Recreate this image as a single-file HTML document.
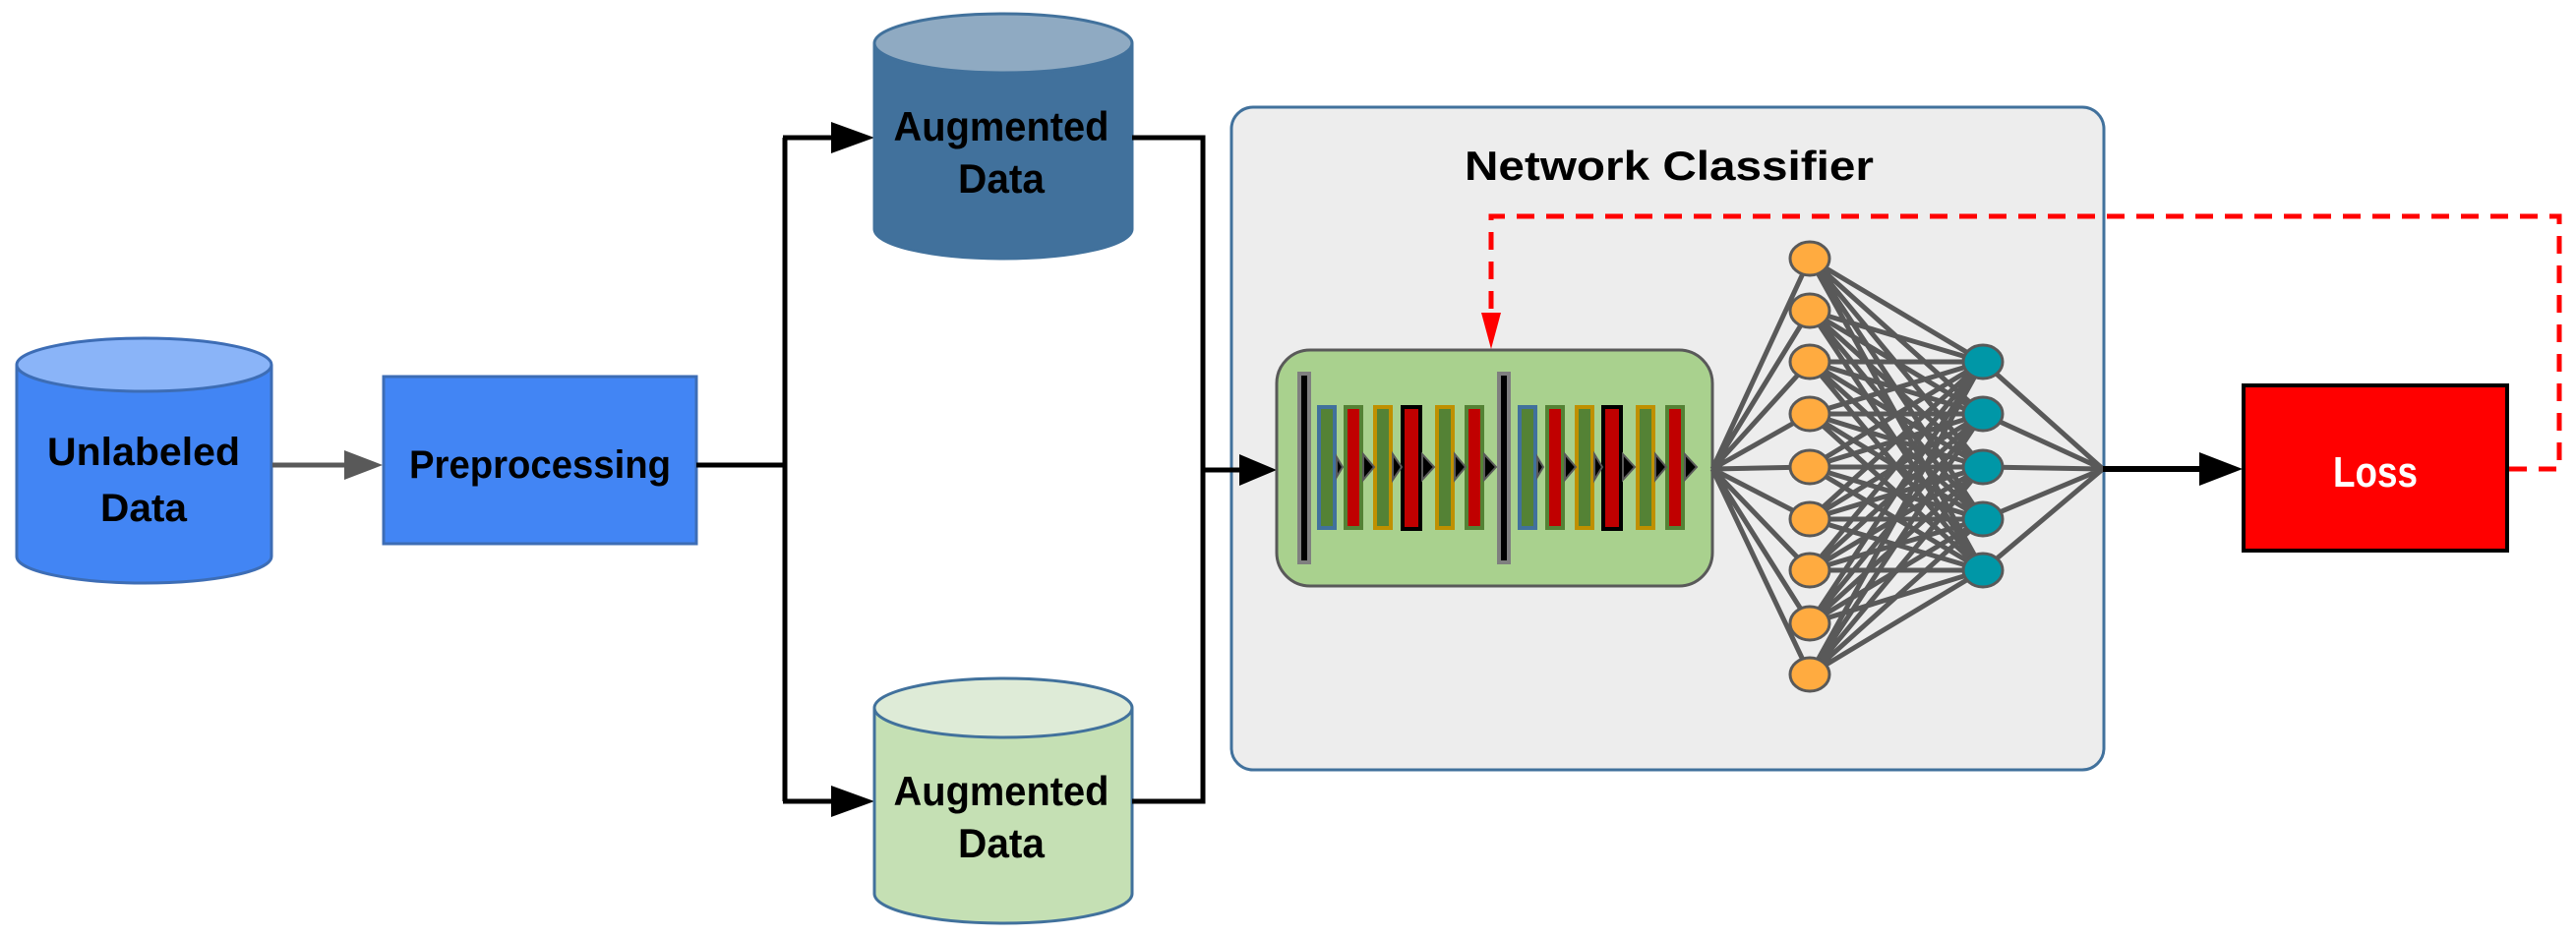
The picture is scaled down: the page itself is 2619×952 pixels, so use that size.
<!DOCTYPE html>
<html><head><meta charset="utf-8"><style>
html,body{margin:0;padding:0;background:#fff;}
svg{display:block;}
text{font-family:"Liberation Sans",sans-serif;font-weight:bold;}
</style></head><body>
<svg width="2619" height="952" viewBox="0 0 2619 952" xmlns="http://www.w3.org/2000/svg">

<!-- Unlabeled cylinder -->
<path d="M17,371 L17,566 A129.5,27 0 0 0 276,566 L276,371" fill="#4285f4" stroke="#3d6db5" stroke-width="3"/>
<ellipse cx="146.5" cy="371" rx="129.5" ry="27" fill="#8ab4f8" stroke="#3d6db5" stroke-width="3"/>
<text x="146" y="473" font-size="40" text-anchor="middle" textLength="196" lengthAdjust="spacingAndGlyphs">Unlabeled</text>
<text x="146" y="530" font-size="40" text-anchor="middle" textLength="88" lengthAdjust="spacingAndGlyphs">Data</text>

<!-- gray arrow -->
<line x1="277" y1="473" x2="360" y2="473" stroke="#595959" stroke-width="5"/>
<path d="M350,458 L389,473 L350,488 z" fill="#595959"/>

<!-- Preprocessing -->
<rect x="390" y="383" width="318" height="170" fill="#4285f4" stroke="#3d6db5" stroke-width="3"/>
<text x="549" y="486" font-size="40" text-anchor="middle" textLength="266" lengthAdjust="spacingAndGlyphs">Preprocessing</text>

<!-- split lines -->
<polyline points="708,473 798,473" fill="none" stroke="#000" stroke-width="5"/>
<polyline points="798,140 798,815" fill="none" stroke="#000" stroke-width="5"/>
<line x1="796" y1="140" x2="850" y2="140" stroke="#000" stroke-width="5"/>
<path d="M845,124 L889,140 L845,156 z" fill="#000"/>
<line x1="796" y1="815" x2="850" y2="815" stroke="#000" stroke-width="5"/>
<path d="M845,799 L889,815 L845,831 z" fill="#000"/>

<!-- Top augmented cylinder -->
<path d="M889,44 L889,233 A131,30 0 0 0 1151,233 L1151,44" fill="#41719c" stroke="#41719c" stroke-width="3"/>
<ellipse cx="1020" cy="44" rx="131" ry="30" fill="#8faac2" stroke="#41719c" stroke-width="3"/>
<text x="1018" y="143" font-size="42" text-anchor="middle" textLength="219" lengthAdjust="spacingAndGlyphs">Augmented</text>
<text x="1018" y="196" font-size="42" text-anchor="middle" textLength="88" lengthAdjust="spacingAndGlyphs">Data</text>

<!-- Bottom augmented cylinder -->
<path d="M889,720 L889,909 A131,30 0 0 0 1151,909 L1151,720" fill="#c5e0b4" stroke="#41719c" stroke-width="3"/>
<ellipse cx="1020" cy="720" rx="131" ry="30" fill="#deebd7" stroke="#41719c" stroke-width="3"/>
<text x="1018" y="819" font-size="42" text-anchor="middle" textLength="219" lengthAdjust="spacingAndGlyphs">Augmented</text>
<text x="1018" y="872" font-size="42" text-anchor="middle" textLength="88" lengthAdjust="spacingAndGlyphs">Data</text>

<!-- merge lines -->
<polyline points="1151,140 1223,140 1223,815 1151,815" fill="none" stroke="#000" stroke-width="5"/>

<!-- Network box -->
<rect x="1252" y="109" width="887" height="674" rx="22" fill="#ededed" stroke="#41719c" stroke-width="3"/>
<text x="1697" y="183" font-size="42" text-anchor="middle" textLength="416" lengthAdjust="spacingAndGlyphs">Network Classifier</text>

<line x1="1221" y1="478" x2="1265" y2="478" stroke="#000" stroke-width="5"/>
<path d="M1260,462 L1298,478 L1260,494 z" fill="#000"/>

<!-- green box -->
<rect x="1298" y="356" width="443" height="240" rx="34" fill="#a9d18e" stroke="#595959" stroke-width="3"/>
<g stroke-width="4">
<rect x="1321" y="380" width="10" height="192" fill="#000" stroke="#7f7f7f"/>
<rect x="1524" y="380" width="10" height="192" fill="#000" stroke="#7f7f7f"/>

<rect x="1341" y="414" width="16" height="123" fill="#548235" stroke="#41719c"/>
<rect x="1368" y="414" width="16" height="123" fill="#c00000" stroke="#548235"/>
<rect x="1398" y="414" width="16" height="123" fill="#548235" stroke="#bf9000"/>
<rect x="1426" y="414" width="18" height="124" fill="#c00000" stroke="#000"/>
<rect x="1461" y="414" width="16" height="123" fill="#548235" stroke="#bf9000"/>
<rect x="1491" y="414" width="16" height="123" fill="#c00000" stroke="#548235"/>

<rect x="1545" y="414" width="16" height="123" fill="#548235" stroke="#41719c"/>
<rect x="1573" y="414" width="16" height="123" fill="#c00000" stroke="#548235"/>
<rect x="1603" y="414" width="16" height="123" fill="#548235" stroke="#bf9000"/>
<rect x="1630" y="414" width="18" height="124" fill="#c00000" stroke="#000"/>
<rect x="1665" y="414" width="16" height="123" fill="#548235" stroke="#bf9000"/>
<rect x="1695" y="414" width="16" height="123" fill="#c00000" stroke="#548235"/>
</g>
<g fill="#000" stroke="#595959" stroke-width="2">
<path d="M1359,465 L1365,475 L1359,485 z"/>
<path d="M1386,462 L1397,475 L1386,488 z"/>
<path d="M1416,462 L1425,475 L1416,488 z"/>
<path d="M1446,462 L1458,475 L1446,488 z"/>
<path d="M1479,462 L1490,475 L1479,488 z"/>
<path d="M1509,462 L1521,475 L1509,488 z"/>
<path d="M1563,465 L1569,475 L1563,485 z"/>
<path d="M1591,462 L1602,475 L1591,488 z"/>
<path d="M1621,462 L1629,475 L1621,488 z"/>
<path d="M1650,462 L1662,475 L1650,488 z"/>
<path d="M1683,462 L1694,475 L1683,488 z"/>
<path d="M1713,462 L1725,475 L1713,488 z"/>
</g>

<!-- NN connections -->
<g stroke="#595959" stroke-width="5" fill="none">
<path d="M1741,477 L1840,263 M1741,477 L1840,316 M1741,477 L1840,368 M1741,477 L1840,421 M1741,477 L1840,475 M1741,477 L1840,528 M1741,477 L1840,580 M1741,477 L1840,634 M1741,477 L1840,686"/>
<path d="M2016,368 L2138,477 M2016,421 L2138,477 M2016,475 L2138,477 M2016,528 L2138,477 M2016,580 L2138,477"/>
<path d="
M1840,263 L2016,368 M1840,263 L2016,421 M1840,263 L2016,475 M1840,263 L2016,528 M1840,263 L2016,580
M1840,316 L2016,368 M1840,316 L2016,421 M1840,316 L2016,475 M1840,316 L2016,528 M1840,316 L2016,580
M1840,368 L2016,368 M1840,368 L2016,421 M1840,368 L2016,475 M1840,368 L2016,528 M1840,368 L2016,580
M1840,421 L2016,368 M1840,421 L2016,421 M1840,421 L2016,475 M1840,421 L2016,528 M1840,421 L2016,580
M1840,475 L2016,368 M1840,475 L2016,421 M1840,475 L2016,475 M1840,475 L2016,528 M1840,475 L2016,580
M1840,528 L2016,368 M1840,528 L2016,421 M1840,528 L2016,475 M1840,528 L2016,528 M1840,528 L2016,580
M1840,580 L2016,368 M1840,580 L2016,421 M1840,580 L2016,475 M1840,580 L2016,528 M1840,580 L2016,580
M1840,634 L2016,368 M1840,634 L2016,421 M1840,634 L2016,475 M1840,634 L2016,528 M1840,634 L2016,580
M1840,686 L2016,368 M1840,686 L2016,421 M1840,686 L2016,475 M1840,686 L2016,528 M1840,686 L2016,580"/>
</g>
<g fill="#ffab40" stroke="#595959" stroke-width="3">
<ellipse cx="1840" cy="263" rx="20" ry="17"/>
<ellipse cx="1840" cy="316" rx="20" ry="17"/>
<ellipse cx="1840" cy="368" rx="20" ry="17"/>
<ellipse cx="1840" cy="421" rx="20" ry="17"/>
<ellipse cx="1840" cy="475" rx="20" ry="17"/>
<ellipse cx="1840" cy="528" rx="20" ry="17"/>
<ellipse cx="1840" cy="580" rx="20" ry="17"/>
<ellipse cx="1840" cy="634" rx="20" ry="17"/>
<ellipse cx="1840" cy="686" rx="20" ry="17"/>
</g>
<g fill="#0097a7" stroke="#595959" stroke-width="3">
<ellipse cx="2016" cy="368" rx="20" ry="17"/>
<ellipse cx="2016" cy="421" rx="20" ry="17"/>
<ellipse cx="2016" cy="475" rx="20" ry="17"/>
<ellipse cx="2016" cy="528" rx="20" ry="17"/>
<ellipse cx="2016" cy="580" rx="20" ry="17"/>
</g>

<!-- to loss -->
<line x1="2138" y1="477" x2="2240" y2="477" stroke="#000" stroke-width="6"/>
<path d="M2236,460 L2280,477 L2236,494 z" fill="#000"/>

<!-- Loss -->
<rect x="2281" y="392" width="268" height="168" fill="#ff0000" stroke="#000" stroke-width="4"/>
<text x="2415" y="495" font-size="44" fill="#fff" text-anchor="middle" textLength="86" lengthAdjust="spacingAndGlyphs">Loss</text>

<!-- dashed feedback -->
<polyline points="2551,477 2602,477 2602,220 1516,220 1516,322" fill="none" stroke="#ff0000" stroke-width="5" stroke-dasharray="18,12"/>
<path d="M1506,318 L1516,355 L1526,318 z" fill="#ff0000"/>
</svg>
</body></html>
